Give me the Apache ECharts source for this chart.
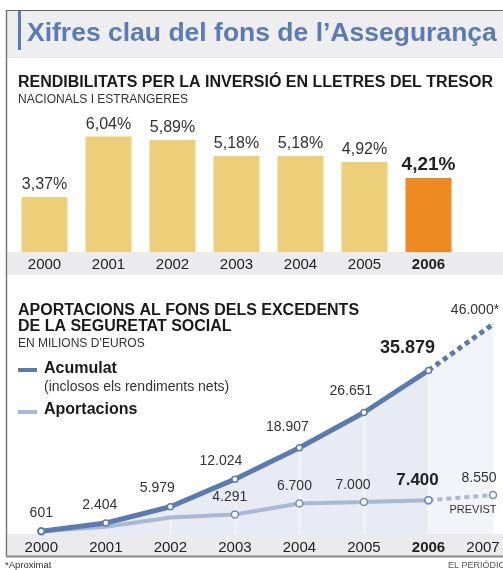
<!DOCTYPE html>
<html lang="ca">
<head>
<meta charset="UTF-8">
<title>Xifres clau del fons de l'Assegurança</title>
<script src="https://cdn.jsdelivr.net/npm/echarts@6/dist/echarts.min.js"></script>
<style>
    html, body { margin: 0; padding: 0; background: #fff; }
    #chart { width: 503px; height: 570px; }
</style>
</head>
<body>
<div id="chart"></div>
<script>
    // rendibilitats (%)
    var anysBarres = ['2000', '2001', '2002', '2003', '2004', '2005', '2006'];
    var rendibilitats = [3.37, 6.04, 5.89, 5.18, 5.18, 4.92, 4.21];

    // fons de reserva (milions d'euros)
    var anysLinia = ['2000', '2001', '2002', '2003', '2004', '2005', '2006', '2007'];
    var acumulat = [601, 2404, 5979, 12024, 18907, 26651, 35879, 46000];
    var aportacions = [601, 1600, 3600, 4291, 6700, 7000, 7400, 8550];

    // desplaçament de les etiquetes
    var offAcum = [[0, 0], [-6, 0], [-13, -1], [-14, 0], [-12, -3], [-13, -4], [-21, -3], [-18, 0]];
    var offAport = [[0, 0], [0, 0], [0, 0], [-5, 0], [-5, 0], [-11, 0], [-11, -1], [-14, 0]];

    var FONT = 'Liberation Sans, Arial, sans-serif';
    var BLAU = '#5b7bb0';
    var BLAU_CLAR = '#a9b8d6';

    function milers(v) {
        return String(v).replace(/\B(?=(\d{3})+(?!\d))/g, '.');
    }

    var barres = rendibilitats.map(function (v, i) {
        var ultim = i === rendibilitats.length - 1;
        return {
            value: v,
            itemStyle: { color: ultim ? '#ed8a22' : '#edcf79' },
            label: ultim ? { fontSize: 19, fontWeight: 'bold', color: '#222' } : {}
        };
    });

    var n = acumulat.length;
    var acumSolid = acumulat.map(function (v, i) {
        if (i === n - 1) return '-';
        var it = { value: v, label: { offset: offAcum[i] } };
        if (i === n - 2) it.label.fontSize = 18, it.label.fontWeight = 'bold', it.label.color = '#222';
        return it;
    });
    var acumPrevist = acumulat.map(function (v, i) {
        if (i < n - 2) return '-';
        if (i === n - 2) return { value: v, label: { show: false } };
        return { value: v, label: { show: true, offset: offAcum[i] } };
    });
    var areaPassat = acumulat.map(function (v, i) { return i < n - 1 ? v : '-'; });
    var areaFutur = acumulat.map(function (v, i) { return i >= n - 2 ? v : '-'; });

    var aportSolid = aportacions.map(function (v, i) {
        if (i === n - 1) return '-';
        var it = { value: v, label: { offset: offAport[i], show: i >= 3 } };
        if (i === 1 || i === 2) it.symbol = 'none';
        if (i === n - 2) it.label.fontSize = 17, it.label.fontWeight = 'bold', it.label.color = '#222';
        return it;
    });
    var aportPrevist = aportacions.map(function (v, i) {
        if (i < n - 2) return '-';
        if (i === n - 2) return { value: v, label: { show: false } };
        return { value: v, label: { show: true, offset: offAport[i] } };
    });

    // textos fixos (per sobre de tot)
    function txt(x, y, text, font, fill, align) {
        return { type: 'text', z: 20, x: x, y: y, style: { text: text, font: font + ' ' + FONT, fill: fill, align: align || 'left', verticalAlign: 'middle' } };
    }

    var chart = echarts.init(document.getElementById('chart'));
    chart.setOption({
        animation: false,
        textStyle: { fontFamily: FONT },
        grid: [
            { left: 12.5, width: 448, top: 100, height: 152 },
            { left: 41.3, right: 10, top: 306, height: 228 }
        ],
        xAxis: [{
            gridIndex: 0,
            type: 'category',
            data: anysBarres.map(function (a, i) {
                return i === anysBarres.length - 1 ? { value: a, textStyle: { fontWeight: 'bold' } } : a;
            }),
            axisLine: { show: false },
            axisTick: { show: false },
            axisLabel: { fontSize: 15, color: '#222', margin: 5 }
        }, {
            gridIndex: 1,
            type: 'category',
            boundaryGap: false,
            z: 2,
            data: anysLinia.map(function (a, i) {
                if (i === 6) return { value: a, textStyle: { fontWeight: 'bold' } };
                if (i === 7) return { value: a, textStyle: { padding: [0, 20, 0, 0] } };
                return a;
            }),
            axisLine: { show: false },
            axisTick: { show: false },
            splitLine: { show: true, lineStyle: { color: '#ffffff', width: 1 } },
            axisLabel: { fontSize: 15, color: '#222', margin: 6 }
        }],
        yAxis: [
            { gridIndex: 0, type: 'value', min: 0.93, max: 7.66, show: false },
            { gridIndex: 1, type: 'value', min: 0, max: 50000, show: false }
        ],
        series: [{
            type: 'bar',
            xAxisIndex: 0, yAxisIndex: 0,
            barWidth: 46,
            data: barres,
            label: {
                show: true, position: 'top', distance: 4,
                fontSize: 16, color: '#333',
                formatter: function (p) { return p.value.toFixed(2).replace('.', ',') + '%'; }
            }
        }, {
            type: 'line', xAxisIndex: 1, yAxisIndex: 1, z: 1,
            data: areaPassat, symbol: 'none', silent: true,
            lineStyle: { width: 0 }, areaStyle: { color: '#e8ebf4', opacity: 1 }
        }, {
            type: 'line', xAxisIndex: 1, yAxisIndex: 1, z: 1,
            data: areaFutur, symbol: 'none', silent: true,
            lineStyle: { width: 0 }, areaStyle: { color: '#f3f4f9', opacity: 1 }
        }, {
            name: 'Aportacions',
            type: 'line', xAxisIndex: 1, yAxisIndex: 1, z: 3,
            data: aportPrevist,
            symbol: 'circle', symbolSize: 7,
            itemStyle: { color: '#fff', borderColor: '#6f8bbd', borderWidth: 1.5 },
            lineStyle: { color: BLAU_CLAR, width: 4, type: [5, 4] },
            label: { position: 'top', distance: 6, fontSize: 14, color: '#333', formatter: function (p) { return milers(p.value); } }
        }, {
            name: 'Aportacions',
            type: 'line', xAxisIndex: 1, yAxisIndex: 1, z: 3,
            data: aportSolid,
            symbol: 'circle', symbolSize: 7,
            itemStyle: { color: '#fff', borderColor: '#6f8bbd', borderWidth: 1.5 },
            lineStyle: { color: BLAU_CLAR, width: 4 },
            label: { show: true, position: 'top', distance: 6, fontSize: 14, color: '#333', formatter: function (p) { return milers(p.value); } }
        }, {
            name: 'Acumulat',
            type: 'line', xAxisIndex: 1, yAxisIndex: 1, z: 4,
            data: acumPrevist,
            symbol: 'circle', symbolSize: 1,
            itemStyle: { color: BLAU },
            lineStyle: { color: BLAU, width: 5, type: [5, 4] },
            label: { position: 'top', distance: 7, fontSize: 14, color: '#333', formatter: function (p) { return milers(p.value) + '*'; } }
        }, {
            name: 'Acumulat',
            type: 'line', xAxisIndex: 1, yAxisIndex: 1, z: 4,
            data: acumSolid,
            symbol: 'circle', symbolSize: 6,
            itemStyle: { color: '#fff', borderColor: BLAU, borderWidth: 1.5 },
            lineStyle: { color: BLAU, width: 5 },
            label: { show: true, position: 'top', distance: 7, fontSize: 14, color: '#333', formatter: function (p) { return milers(p.value); } }
        }],
        graphic: [
            // capçalera
            { type: 'rect', z: -1, shape: { x: 7, y: 11, width: 496, height: 47 }, style: { fill: '#eeedf0' } },
            { type: 'rect', z: 20, shape: { x: 18, y: 11, width: 3, height: 39 }, style: { fill: '#5b7cb3' } },
            txt(27, 34, 'Xifres clau del fons de l\u2019Assegurança', 'bold 26.5px', '#5b7cb3'),
            // marc
            { type: 'line', z: 20, shape: { x1: 6, y1: 10.5, x2: 503, y2: 10.5 }, style: { stroke: '#666', lineWidth: 1 } },
            { type: 'line', z: 20, shape: { x1: 6.5, y1: 10, x2: 6.5, y2: 557 }, style: { stroke: '#777', lineWidth: 1.5 } },
            { type: 'line', z: 20, shape: { x1: 6, y1: 556.5, x2: 503, y2: 556.5 }, style: { stroke: '#888', lineWidth: 2 } },
            // bandes dels eixos
            { type: 'rect', z: -1, shape: { x: 7.5, y: 252, width: 496, height: 23 }, style: { fill: '#ebeaec' } },
            { type: 'rect', z: -1, shape: { x: 7.5, y: 534, width: 496, height: 21.5 }, style: { fill: '#ebeaec' } },
            // títols
            txt(18, 83, 'RENDIBILITATS PER LA INVERSIÓ EN LLETRES DEL TRESOR', 'bold 16px', '#1a1a1a'),
            txt(18, 100, 'NACIONALS I ESTRANGERES', '12px', '#333'),
            txt(18, 311, 'APORTACIONS AL FONS DELS EXCEDENTS', 'bold 16px', '#1a1a1a'),
            txt(18, 327, 'DE LA SEGURETAT SOCIAL', 'bold 16px', '#1a1a1a'),
            txt(18, 344, 'EN MILIONS D\u2019EUROS', '12px', '#333'),
            // llegenda
            { type: 'rect', z: 20, shape: { x: 18, y: 368, width: 19, height: 4 }, style: { fill: BLAU } },
            txt(44, 369, 'Acumulat', 'bold 16px', '#1a1a1a'),
            txt(44, 387, '(inclosos els rendiments nets)', '14px', '#333'),
            { type: 'rect', z: 20, shape: { x: 18, y: 410, width: 19, height: 4 }, style: { fill: BLAU_CLAR } },
            txt(44, 410, 'Aportacions', 'bold 16px', '#1a1a1a'),
            txt(473, 510, 'PREVIST', '11px', '#333', 'center'),
            // peu
            txt(5, 565.5, '*Aproximat', '9.5px', '#333'),
            txt(448, 566, 'EL PERIÓDICO', '9px', '#555')
        ]
    });
</script>
</body>
</html>
